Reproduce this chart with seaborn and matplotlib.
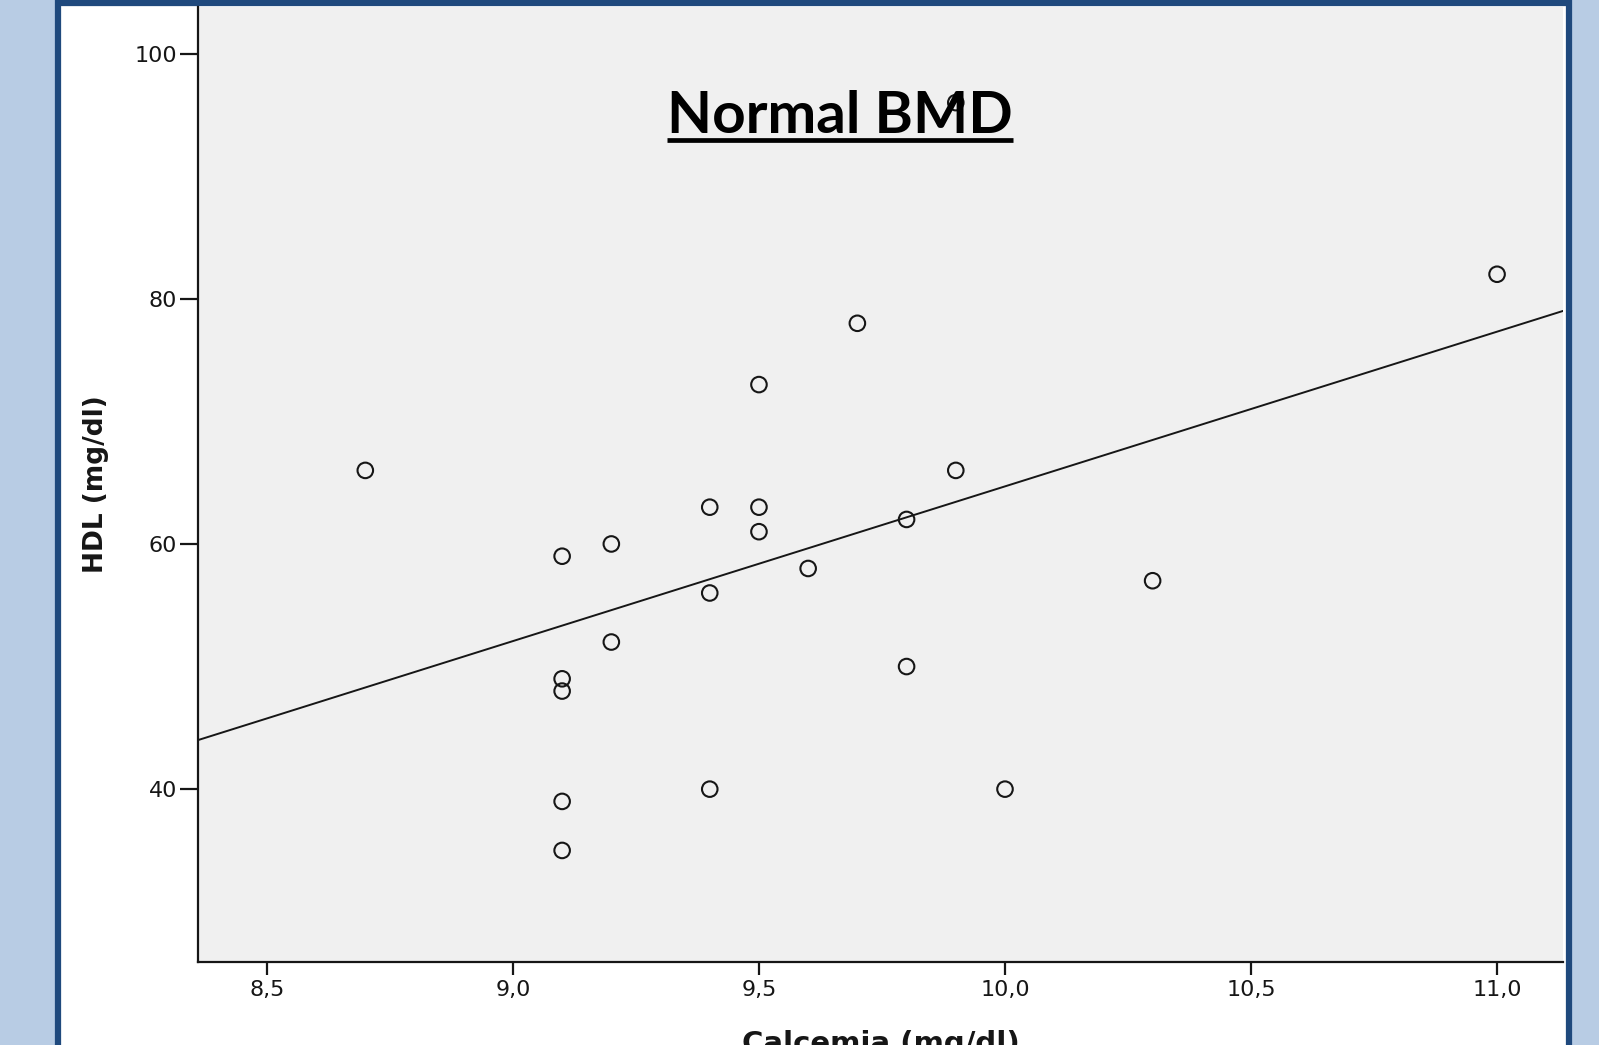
"""
Scatter of HDL vs calcemia (normal BMD group) with linear fit,
drawn in the style of the original SPSS poster panel.
"""

import numpy as np
import pandas as pd
import matplotlib
matplotlib.use("Agg")
import matplotlib.pyplot as plt
from matplotlib.patches import Rectangle
from matplotlib.lines import Line2D
import seaborn as sns

# Data
calcemia = [8.7, 9.1, 9.1, 9.1, 9.1, 9.1, 9.2, 9.2, 9.4, 9.4, 9.4, 9.5,
            9.5, 9.5, 9.6, 9.7, 9.8, 9.8, 9.9, 9.9, 10.0, 10.3, 11.0]
hdl = [66, 59, 49, 48, 39, 35, 60, 52, 63, 56, 40, 73,
       63, 61, 58, 78, 62, 50, 66, 96, 40, 57, 82]

x_ticks = [8.5, 9.0, 9.5, 10.0, 10.5, 11.0]
x_tick_labels = ["8,5", "9,0", "9,5", "10,0", "10,5", "11,0"]
y_ticks = [40, 60, 80, 100]
y_tick_labels = ["40", "60", "80", "100"]

TITLE = "Normal BMD"
X_LABEL = "Calcemia (mg/dl)"
Y_LABEL = "HDL (mg/dl)"

# Colours
PAGE_BLUE = "#B8CCE4"
BORDER_BLUE = "#1F497D"
PLOT_BG = "#F0F0F0"
INK = "#161616"

W, H = 1599, 1045


def build_figure():
    sns.set_style("white")
    plt.rcParams["font.family"] = ["DejaVu Sans"]

    fig = plt.figure(figsize=(W / 100, H / 100), dpi=100, facecolor=PAGE_BLUE)

    # white panel with dark blue frame (kept behind the axes)
    panel = Rectangle((58 / W, -0.05), (1569 - 58) / W, (H - 3) / H + 0.05,
                      transform=fig.transFigure, facecolor="white",
                      edgecolor=BORDER_BLUE, linewidth=4.5, zorder=-5)
    fig.patches.append(panel)

    left, right = 198 / W, 1563 / W
    bottom, top = (H - 962) / H, (H - 7) / H
    ax = fig.add_axes([left, bottom, right - left, top - bottom])
    ax.set_zorder(1)
    ax.set_facecolor(PLOT_BG)
    return fig, ax


def draw_scatter(ax):
    df = pd.DataFrame({"calcemia": calcemia, "hdl": hdl})

    # limits first so the fit line spans the whole axes
    ax.set_xlim(8.36, 11.134)
    ax.set_ylim(25.9, 103.8)

    sns.regplot(data=df, x="calcemia", y="hdl", ax=ax, ci=None, truncate=False,
                scatter_kws={"s": 125, "facecolors": "none", "edgecolors": INK,
                             "linewidths": 1.5, "alpha": 1, "zorder": 3},
                line_kws={"color": INK, "linewidth": 1.4, "zorder": 2})

    ax.set_xlim(8.36, 11.134)
    ax.set_ylim(25.9, 103.8)

    ax.set_xticks(x_ticks)
    ax.set_xticklabels(x_tick_labels)
    ax.set_yticks(y_ticks)
    ax.set_yticklabels(y_tick_labels)

    ax.tick_params(axis="x", direction="out", length=9.5, width=1.6, pad=3.5,
                   labelsize=16, colors=INK, bottom=True)
    ax.tick_params(axis="y", direction="out", length=13, width=1.6, pad=2,
                   labelsize=16, colors=INK, left=True)

    for side in ["top", "right"]:
        ax.spines[side].set_visible(False)
    for side in ["left", "bottom"]:
        ax.spines[side].set_color(INK)
        ax.spines[side].set_linewidth(1.6)

    ax.set_xlabel(X_LABEL, fontsize=21, fontweight="bold", va="top", color=INK)
    ax.xaxis.set_label_coords(0.5, (962 - 1030) / 955)
    ax.set_ylabel(Y_LABEL, fontsize=19, fontweight="bold", va="bottom", color=INK)
    ax.yaxis.set_label_coords((109 - 198) / 1365, 0.5)


def draw_title(fig):
    t = fig.text(840 / W, (H - 133) / H, TITLE, ha="center", va="baseline",
                 fontsize=42, fontweight="bold", family=["Lato", "DejaVu Sans"],
                 color="black", zorder=5)
    fig.canvas.draw()
    bb = t.get_window_extent(fig.canvas.get_renderer())
    y_line = (H - 140) / H
    fig.lines.append(Line2D([bb.x0 / W, bb.x1 / W], [y_line, y_line],
                            transform=fig.transFigure, color="black",
                            linewidth=3.4, solid_capstyle="butt", zorder=5))


def main():
    fig, ax = build_figure()
    draw_scatter(ax)
    draw_title(fig)
    fig.savefig("out.png", dpi=100, facecolor=PAGE_BLUE)
    plt.close(fig)
    print("saved out.png")


if __name__ == "__main__":
    main()
